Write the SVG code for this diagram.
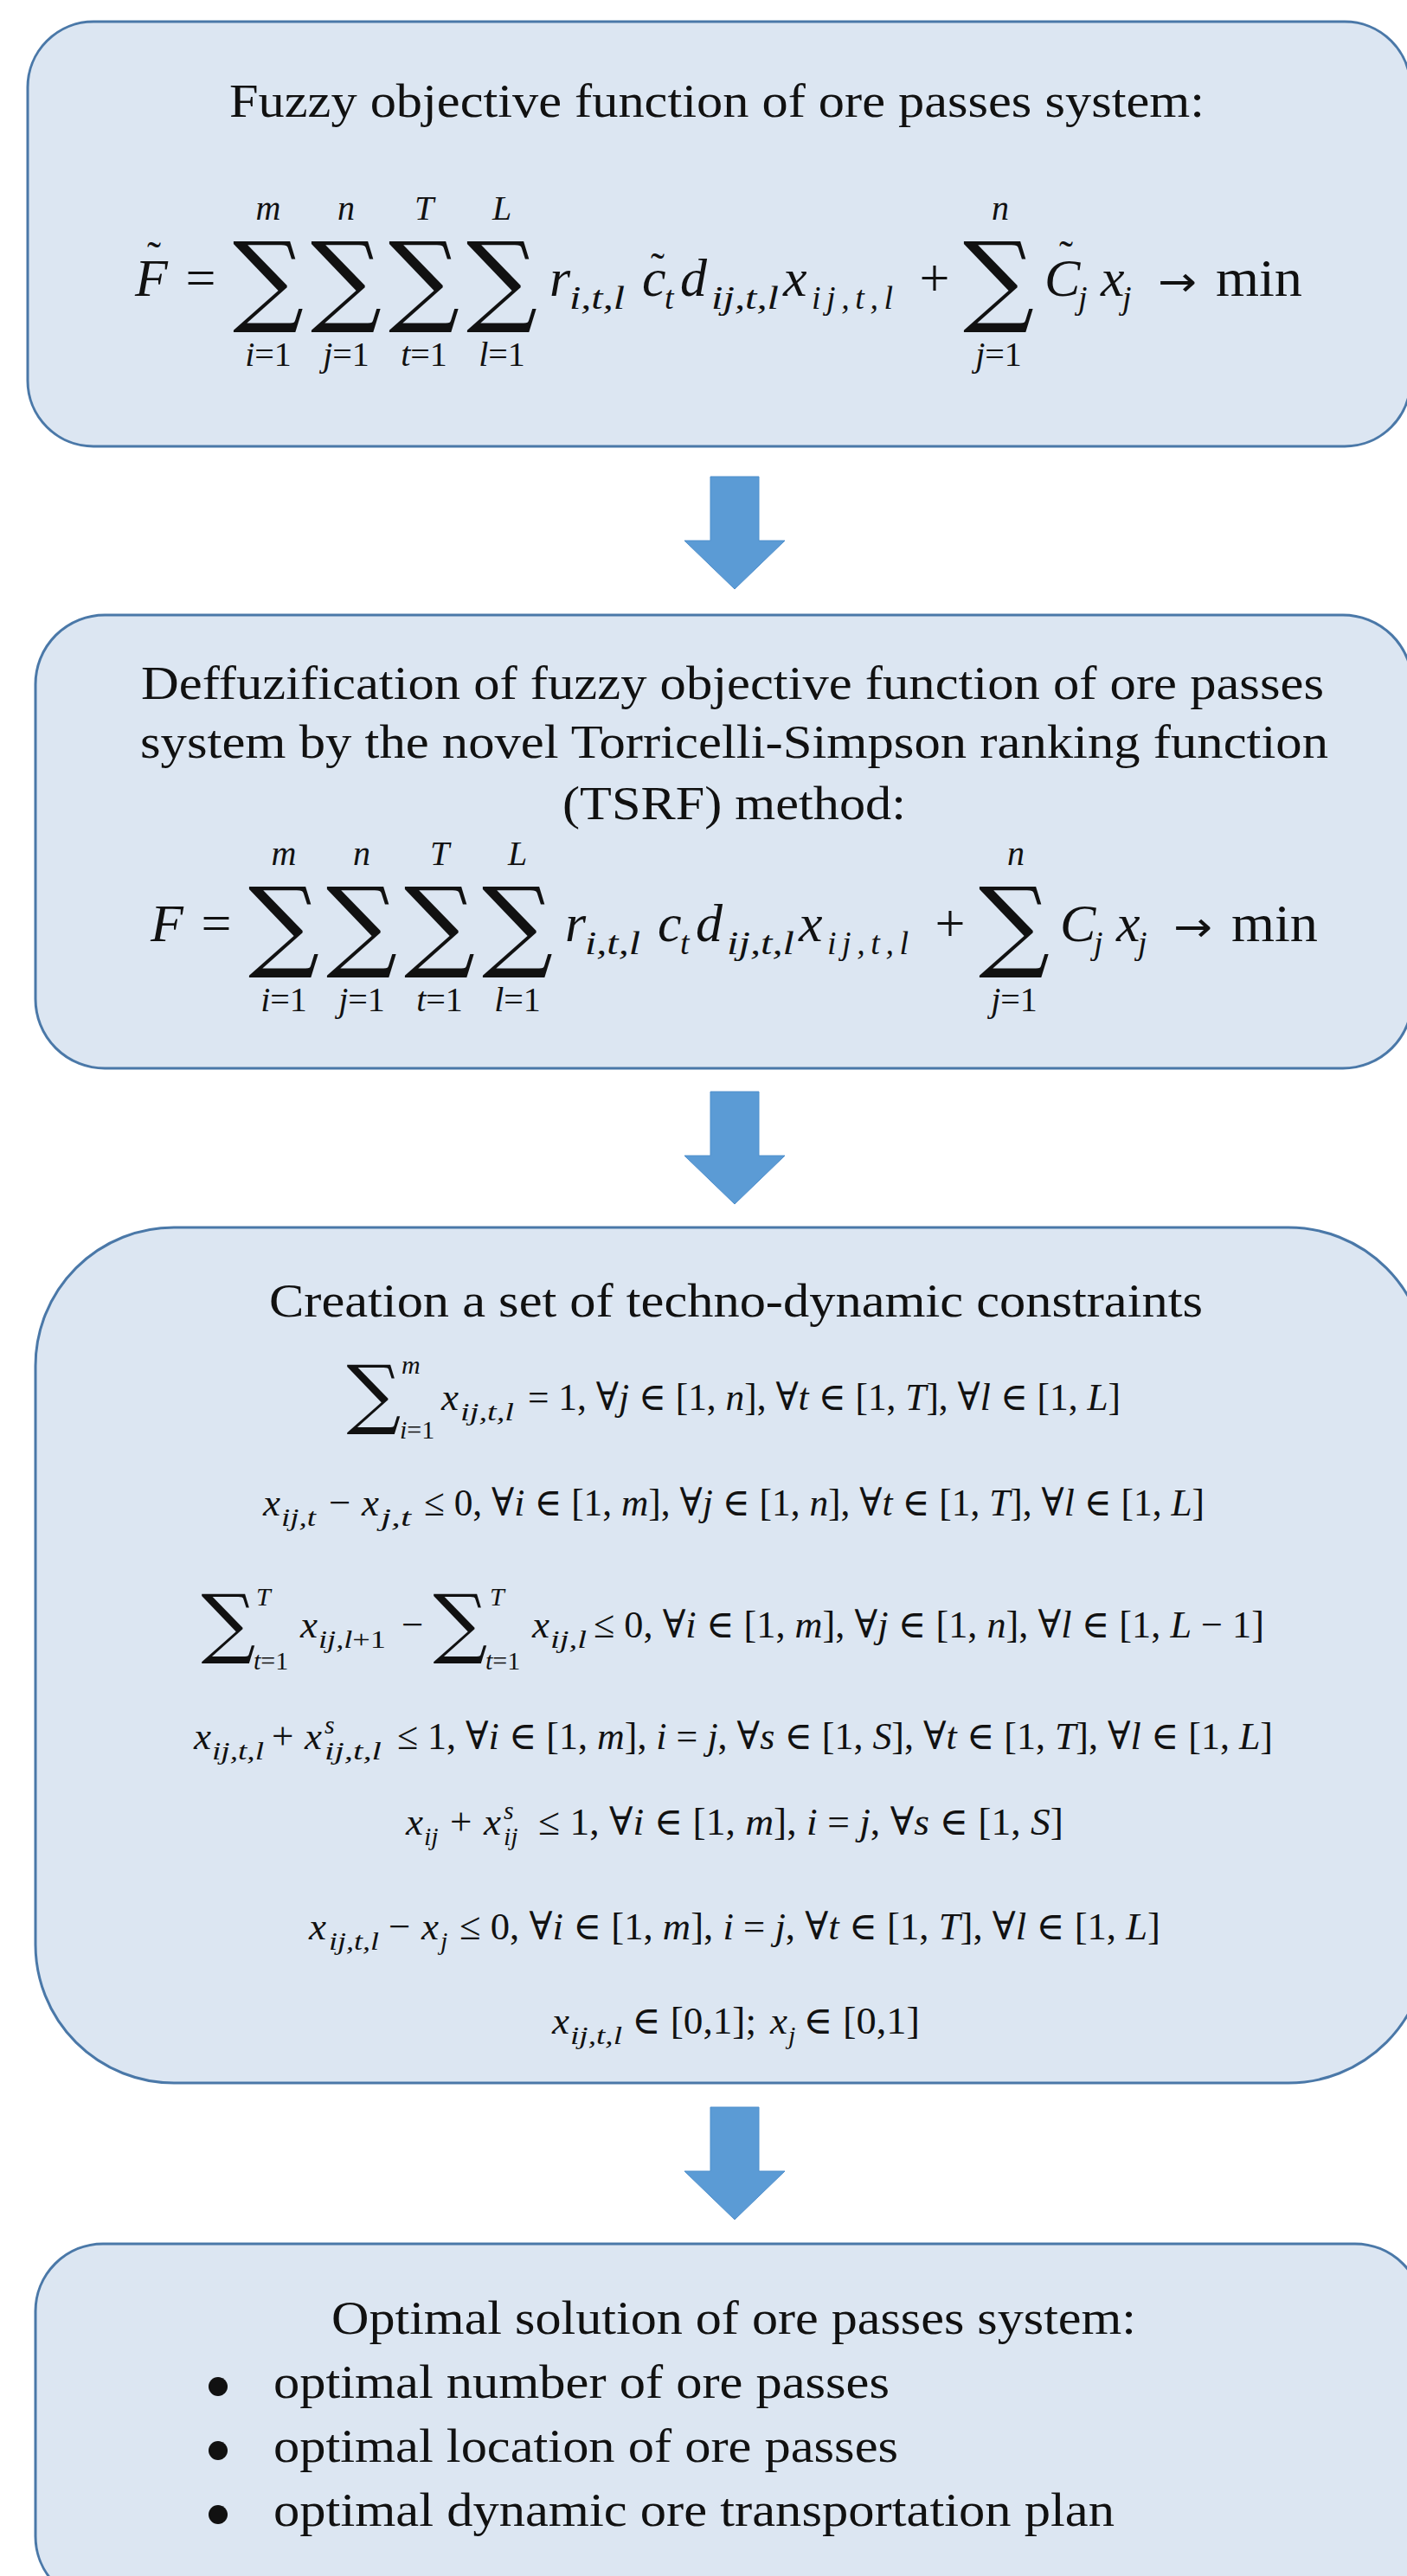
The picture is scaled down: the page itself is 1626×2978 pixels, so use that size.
<svg xmlns="http://www.w3.org/2000/svg" width="1626" height="2978" viewBox="0 0 1626 2978">
<style>
.box{fill:#dce6f2;stroke:#4a78a8;stroke-width:3}
.arr{fill:#5b9bd5;stroke:#4f8fcc;stroke-width:1}
.t{font-family:"Liberation Serif","Times New Roman",serif;font-size:54px;fill:#111}
.m{font-family:"Liberation Serif","Times New Roman",serif;font-size:62px;font-style:italic;fill:#111}
.mu{font-family:"Liberation Serif","DejaVu Serif",serif;font-size:62px;fill:#111}
.ar{font-family:"DejaVu Sans",sans-serif;font-size:48px;fill:#111}
.s{font-family:"Liberation Serif","Times New Roman",serif;font-size:38px;font-style:italic;fill:#111}
.lim{font-family:"Liberation Serif","DejaVu Serif",serif;font-size:40px;fill:#111}
.sig{font-family:"DejaVu Serif",serif;fill:#111}
.til{font-family:"Liberation Serif",serif;font-size:48px;fill:#111}
.c{font-family:"Liberation Serif","DejaVu Serif",serif;font-size:45px;fill:#111}
.ci{font-family:"Liberation Serif","DejaVu Serif",serif;font-size:45px;font-style:italic;fill:#111}
.cs{font-family:"Liberation Serif","DejaVu Serif",serif;font-size:30px;font-style:italic;fill:#111}
.i{font-style:italic}
</style>
<rect width="1626" height="2978" fill="#ffffff"/>

<g id="connectors">
<polygon class="arr" points="821,551 877,551 877,625 907,625 849,681 791,625 821,625"/>
<polygon class="arr" points="821,1262 877,1262 877,1336 907,1336 849,1392 791,1336 821,1336"/>
<polygon class="arr" points="821,2436 877,2436 877,2510 907,2510 849,2566 791,2510 821,2510"/>
</g>

<g id="node-objective">
<rect class="box" x="32" y="25" width="1598" height="491" rx="76" ry="76"/>
<text class="t" x="265" y="135" textLength="1127" lengthAdjust="spacingAndGlyphs">Fuzzy objective function of ore passes system:</text>
<text class="m" x="156" y="342">F</text>
<text class="til" x="178" y="313" text-anchor="middle">˜</text>
<text class="mu" x="232" y="342" text-anchor="middle">=</text>
<text class="sig" x="310" y="362" font-size="115" text-anchor="middle">∑</text>
<text class="sig" x="400" y="362" font-size="115" text-anchor="middle">∑</text>
<text class="sig" x="490" y="362" font-size="115" text-anchor="middle">∑</text>
<text class="sig" x="580" y="362" font-size="115" text-anchor="middle">∑</text>
<text class="lim i" x="310" y="254" text-anchor="middle">m</text>
<text class="lim i" x="400" y="254" text-anchor="middle">n</text>
<text class="lim i" x="490" y="254" text-anchor="middle">T</text>
<text class="lim i" x="580" y="254" text-anchor="middle">L</text>
<text class="lim" x="310" y="423" text-anchor="middle"><tspan class="i">i</tspan>=1</text>
<text class="lim" x="400" y="423" text-anchor="middle"><tspan class="i">j</tspan>=1</text>
<text class="lim" x="490" y="423" text-anchor="middle"><tspan class="i">t</tspan>=1</text>
<text class="lim" x="580" y="423" text-anchor="middle"><tspan class="i">l</tspan>=1</text>
<text class="m" x="635" y="342">r</text>
<text class="s" x="658" y="357" textLength="64" lengthAdjust="spacingAndGlyphs">i,t,l</text>
<text class="m" x="742" y="342">c</text>
<text class="til" x="760" y="326" text-anchor="middle">˜</text>
<text class="s" x="768" y="357">t</text>
<text class="m" x="786" y="342">d</text>
<text class="s" x="822" y="357" textLength="78" lengthAdjust="spacingAndGlyphs">ij,t,l</text>
<text class="m" x="905" y="342">x</text>
<text class="s" x="938" y="357" textLength="94" lengthAdjust="spacing">ij,t,l</text>
<text class="mu" x="1080" y="342" text-anchor="middle">+</text>
<text class="sig" x="1154" y="362" font-size="115" text-anchor="middle">∑</text>
<text class="lim i" x="1156" y="254" text-anchor="middle">n</text>
<text class="lim" x="1154" y="423" text-anchor="middle"><tspan class="i">j</tspan>=1</text>
<text class="m" x="1207" y="342">C</text>
<text class="til" x="1232" y="312" text-anchor="middle">˜</text>
<text class="s" x="1246" y="357">j</text>
<text class="m" x="1272" y="342">x</text>
<text class="s" x="1297" y="357">j</text>
<text class="ar" x="1338" y="342" textLength="45" lengthAdjust="spacingAndGlyphs">→</text>
<text class="mu" x="1405" y="342" textLength="100" lengthAdjust="spacingAndGlyphs">min</text>
</g>

<g id="node-defuzz">
<rect class="box" x="41" y="711" width="1591" height="524" rx="80" ry="80"/>
<text class="t" x="163" y="808" textLength="1367" lengthAdjust="spacingAndGlyphs">Deffuzification of fuzzy objective function of ore passes</text>
<text class="t" x="162" y="876" textLength="1373" lengthAdjust="spacingAndGlyphs">system by the novel Torricelli-Simpson ranking function</text>
<text class="t" x="650" y="947" textLength="397" lengthAdjust="spacingAndGlyphs">(TSRF) method:</text>
<g transform="translate(18,746)">
<text class="m" x="156" y="342">F</text>
<text class="mu" x="232" y="342" text-anchor="middle">=</text>
<text class="sig" x="310" y="362" font-size="115" text-anchor="middle">∑</text>
<text class="sig" x="400" y="362" font-size="115" text-anchor="middle">∑</text>
<text class="sig" x="490" y="362" font-size="115" text-anchor="middle">∑</text>
<text class="sig" x="580" y="362" font-size="115" text-anchor="middle">∑</text>
<text class="lim i" x="310" y="254" text-anchor="middle">m</text>
<text class="lim i" x="400" y="254" text-anchor="middle">n</text>
<text class="lim i" x="490" y="254" text-anchor="middle">T</text>
<text class="lim i" x="580" y="254" text-anchor="middle">L</text>
<text class="lim" x="310" y="423" text-anchor="middle"><tspan class="i">i</tspan>=1</text>
<text class="lim" x="400" y="423" text-anchor="middle"><tspan class="i">j</tspan>=1</text>
<text class="lim" x="490" y="423" text-anchor="middle"><tspan class="i">t</tspan>=1</text>
<text class="lim" x="580" y="423" text-anchor="middle"><tspan class="i">l</tspan>=1</text>
<text class="m" x="635" y="342">r</text>
<text class="s" x="658" y="357" textLength="64" lengthAdjust="spacingAndGlyphs">i,t,l</text>
<text class="m" x="742" y="342">c</text>
<text class="s" x="768" y="357">t</text>
<text class="m" x="786" y="342">d</text>
<text class="s" x="822" y="357" textLength="78" lengthAdjust="spacingAndGlyphs">ij,t,l</text>
<text class="m" x="905" y="342">x</text>
<text class="s" x="938" y="357" textLength="94" lengthAdjust="spacing">ij,t,l</text>
<text class="mu" x="1080" y="342" text-anchor="middle">+</text>
<text class="sig" x="1154" y="362" font-size="115" text-anchor="middle">∑</text>
<text class="lim i" x="1156" y="254" text-anchor="middle">n</text>
<text class="lim" x="1154" y="423" text-anchor="middle"><tspan class="i">j</tspan>=1</text>
<text class="m" x="1207" y="342">C</text>
<text class="s" x="1246" y="357">j</text>
<text class="m" x="1272" y="342">x</text>
<text class="s" x="1297" y="357">j</text>
<text class="ar" x="1338" y="342" textLength="45" lengthAdjust="spacingAndGlyphs">→</text>
<text class="mu" x="1405" y="342" textLength="100" lengthAdjust="spacingAndGlyphs">min</text>
</g>
</g>

<g id="node-constraints">
<rect class="box" x="41" y="1419" width="1608" height="989" rx="160" ry="160"/>
<text class="t" x="311" y="1522" textLength="1079" lengthAdjust="spacingAndGlyphs">Creation a set of techno-dynamic constraints</text>
<text class="sig" x="432" y="1641" font-size="88" text-anchor="middle">∑</text>
<text class="cs" x="464" y="1588">m</text>
<text class="cs" x="462" y="1663"><tspan>i</tspan><tspan font-style="normal">=1</tspan></text>
<text class="ci" x="510" y="1630">x</text>
<text class="cs" x="532" y="1642" textLength="62" lengthAdjust="spacingAndGlyphs">ij,t,l</text>
<text class="c" x="610" y="1630" textLength="685" lengthAdjust="spacingAndGlyphs">= 1, ∀<tspan class="i">j</tspan> ∈ [1, <tspan class="i">n</tspan>], ∀<tspan class="i">t</tspan> ∈ [1, <tspan class="i">T</tspan>], ∀<tspan class="i">l</tspan> ∈ [1, <tspan class="i">L</tspan>]</text>
<text class="ci" x="304" y="1752">x</text>
<text class="cs" x="325" y="1764" textLength="40" lengthAdjust="spacingAndGlyphs">ij,t</text>
<text class="c" x="380" y="1752">−</text>
<text class="ci" x="418" y="1752">x</text>
<text class="cs" x="440" y="1764" textLength="35" lengthAdjust="spacingAndGlyphs">j,t</text>
<text class="c" x="490" y="1752" textLength="902" lengthAdjust="spacingAndGlyphs">≤ 0, ∀<tspan class="i">i</tspan> ∈ [1, <tspan class="i">m</tspan>], ∀<tspan class="i">j</tspan> ∈ [1, <tspan class="i">n</tspan>], ∀<tspan class="i">t</tspan> ∈ [1, <tspan class="i">T</tspan>], ∀<tspan class="i">l</tspan> ∈ [1, <tspan class="i">L</tspan>]</text>
<text class="sig" x="264" y="1906" font-size="88" text-anchor="middle">∑</text>
<text class="cs" x="296" y="1856">T</text>
<text class="cs" x="293" y="1930"><tspan>t</tspan><tspan font-style="normal">=1</tspan></text>
<text class="ci" x="347" y="1893">x</text>
<text class="cs" x="368" y="1905" textLength="78" lengthAdjust="spacingAndGlyphs">ij,l<tspan font-style="normal">+1</tspan></text>
<text class="c" x="464" y="1893">−</text>
<text class="sig" x="532" y="1906" font-size="88" text-anchor="middle">∑</text>
<text class="cs" x="566" y="1856">T</text>
<text class="cs" x="561" y="1930"><tspan>t</tspan><tspan font-style="normal">=1</tspan></text>
<text class="ci" x="615" y="1893">x</text>
<text class="cs" x="636" y="1905" textLength="42" lengthAdjust="spacingAndGlyphs">ij,l</text>
<text class="c" x="686" y="1893" textLength="775" lengthAdjust="spacingAndGlyphs">≤ 0, ∀<tspan class="i">i</tspan> ∈ [1, <tspan class="i">m</tspan>], ∀<tspan class="i">j</tspan> ∈ [1, <tspan class="i">n</tspan>], ∀<tspan class="i">l</tspan> ∈ [1, <tspan class="i">L</tspan> − 1]</text>
<text class="ci" x="224" y="2022">x</text>
<text class="cs" x="245" y="2034" textLength="60" lengthAdjust="spacingAndGlyphs">ij,t,l</text>
<text class="c" x="314" y="2022">+</text>
<text class="ci" x="352" y="2022">x</text>
<text class="cs" x="375" y="2004">s</text>
<text class="cs" x="375" y="2034" textLength="66" lengthAdjust="spacingAndGlyphs">ij,t,l</text>
<text class="c" x="459" y="2022" textLength="1012" lengthAdjust="spacingAndGlyphs">≤ 1, ∀<tspan class="i">i</tspan> ∈ [1, <tspan class="i">m</tspan>], <tspan class="i">i</tspan> = <tspan class="i">j</tspan>, ∀<tspan class="i">s</tspan> ∈ [1, <tspan class="i">S</tspan>], ∀<tspan class="i">t</tspan> ∈ [1, <tspan class="i">T</tspan>], ∀<tspan class="i">l</tspan> ∈ [1, <tspan class="i">L</tspan>]</text>
<text class="ci" x="469" y="2121">x</text>
<text class="cs" x="490" y="2133">ij</text>
<text class="c" x="520" y="2121">+</text>
<text class="ci" x="559" y="2121">x</text>
<text class="cs" x="582" y="2103">s</text>
<text class="cs" x="582" y="2133">ij</text>
<text class="c" x="622" y="2121" textLength="607" lengthAdjust="spacingAndGlyphs">≤ 1, ∀<tspan class="i">i</tspan> ∈ [1, <tspan class="i">m</tspan>], <tspan class="i">i</tspan> = <tspan class="i">j</tspan>, ∀<tspan class="i">s</tspan> ∈ [1, <tspan class="i">S</tspan>]</text>
<text class="ci" x="357" y="2242">x</text>
<text class="cs" x="380" y="2254" textLength="58" lengthAdjust="spacingAndGlyphs">ij,t,l</text>
<text class="c" x="449" y="2242">−</text>
<text class="ci" x="487" y="2242">x</text>
<text class="cs" x="509" y="2254">j</text>
<text class="c" x="531" y="2242" textLength="810" lengthAdjust="spacingAndGlyphs">≤ 0, ∀<tspan class="i">i</tspan> ∈ [1, <tspan class="i">m</tspan>], <tspan class="i">i</tspan> = <tspan class="i">j</tspan>, ∀<tspan class="i">t</tspan> ∈ [1, <tspan class="i">T</tspan>], ∀<tspan class="i">l</tspan> ∈ [1, <tspan class="i">L</tspan>]</text>
<text class="ci" x="638" y="2351">x</text>
<text class="cs" x="659" y="2363" textLength="60" lengthAdjust="spacingAndGlyphs">ij,t,l</text>
<text class="c" x="730" y="2351" textLength="144" lengthAdjust="spacingAndGlyphs">∈ [0,1];</text>
<text class="ci" x="890" y="2351">x</text>
<text class="cs" x="911" y="2363">j</text>
<text class="c" x="928" y="2351" textLength="135" lengthAdjust="spacingAndGlyphs">∈ [0,1]</text>
</g>

<g id="node-solution">
<rect class="box" x="41" y="2594" width="1603" height="416" rx="78" ry="78"/>
<text class="t" x="383" y="2698" textLength="930" lengthAdjust="spacingAndGlyphs">Optimal solution of ore passes system:</text>
<circle cx="252" cy="2759" r="11" fill="#111"/>
<circle cx="252" cy="2833" r="11" fill="#111"/>
<circle cx="252" cy="2907" r="11" fill="#111"/>
<text class="t" x="316" y="2772" textLength="712" lengthAdjust="spacingAndGlyphs">optimal number of ore passes</text>
<text class="t" x="316" y="2846" textLength="722" lengthAdjust="spacingAndGlyphs">optimal location of ore passes</text>
<text class="t" x="316" y="2920" textLength="972" lengthAdjust="spacingAndGlyphs">optimal dynamic ore transportation plan</text>
</g>
</svg>
